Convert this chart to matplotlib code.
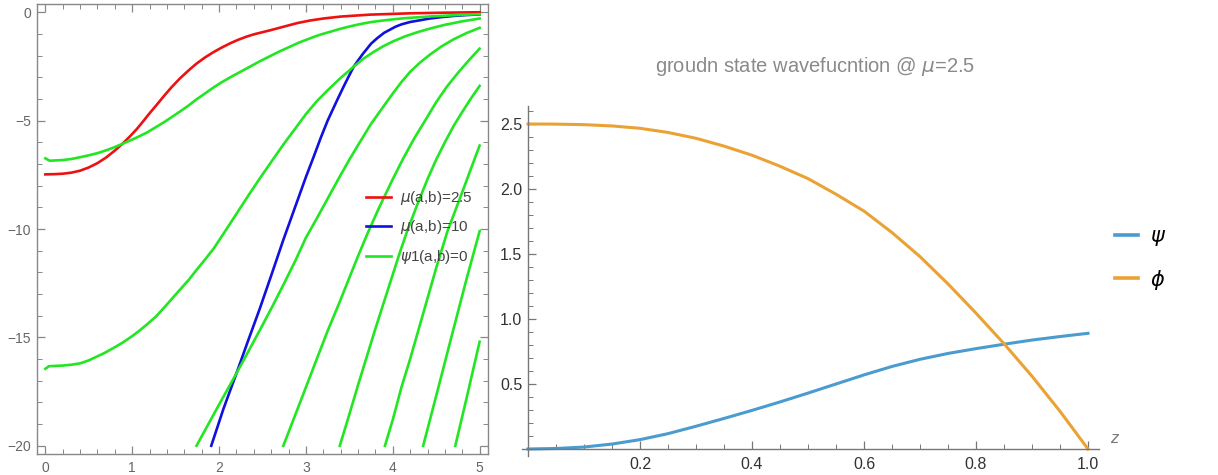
import matplotlib
matplotlib.use("Agg")
import matplotlib.pyplot as plt
from matplotlib.ticker import MultipleLocator, FixedLocator

plt.rcParams["font.family"] = ["Liberation Sans", "DejaVu Sans"]
plt.rcParams["mathtext.fontset"] = "dejavusans"

# ---- left panel: contour-like curves ----
red_x = [0, 0.1, 0.2, 0.3, 0.4, 0.5, 0.6, 0.7, 0.8, 0.9, 0.98, 1.05, 1.12, 1.2, 1.28, 1.36, 1.45, 1.55,
         1.65, 1.74, 1.84, 1.94, 2.03, 2.13, 2.22, 2.32, 2.4, 2.5, 2.6, 2.75, 2.9, 3.05, 3.2, 3.4, 3.74,
         4.2, 4.6, 5.0]
red_y = [-7.48, -7.47, -7.45, -7.4, -7.31, -7.16, -6.96, -6.7, -6.38, -6.02, -5.7, -5.4, -5.06, -4.66,
         -4.28, -3.89, -3.47, -3.05, -2.68, -2.37, -2.08, -1.83, -1.63, -1.43, -1.27, -1.12, -1.02, -0.92,
         -0.82, -0.66, -0.5, -0.38, -0.29, -0.2, -0.11, -0.05, -0.02, 0.0]

blue_x = [1.91, 2.05, 2.2, 2.33, 2.47, 2.6, 2.74, 2.87, 3.0, 3.09, 3.17, 3.25, 3.36, 3.45, 3.55, 3.65,
          3.75, 3.82, 3.9, 4.03, 4.1, 4.2, 4.3, 4.41, 4.55, 4.7, 4.85, 5.0]
blue_y = [-20, -18.3, -16.66, -15.2, -13.66, -12.15, -10.5, -9.05, -7.6, -6.66, -5.8, -5.0, -4.05, -3.3,
          -2.51, -1.95, -1.45, -1.2, -0.95, -0.67, -0.56, -0.45, -0.38, -0.3, -0.23, -0.17, -0.13, -0.1]

green_x = [
    [0, 0.05, 0.1, 0.2, 0.3, 0.4, 0.5, 0.6, 0.7, 0.78, 0.9, 1.03, 1.17, 1.26, 1.36, 1.45, 1.55, 1.65,
     1.74, 1.84, 1.94, 2.03, 2.13, 2.25, 2.36, 2.48, 2.6, 2.7, 2.8, 2.92, 3.05, 3.16, 3.28, 3.4, 3.5,
     3.62, 3.74, 3.87, 4.0, 4.15, 4.3, 4.45, 4.6, 4.8, 5.0],
    [0, 0.04, 0.1, 0.2, 0.3, 0.4, 0.5, 0.59, 0.68, 0.78, 0.89, 1.0, 1.08, 1.17, 1.27, 1.36, 1.45, 1.55,
     1.65, 1.74, 1.84, 1.94, 2.07, 2.2, 2.33, 2.47, 2.61, 2.75, 2.88, 3.0, 3.12, 3.25, 3.4, 3.55, 3.66,
     3.78, 3.89, 4.0, 4.15, 4.3, 4.45, 4.6, 4.8, 5.0],
    [1.74, 1.87, 2.0, 2.1, 2.2, 2.33, 2.47, 2.61, 2.75, 2.88, 3.0, 3.12, 3.25, 3.38, 3.5, 3.62, 3.75,
     3.88, 4.0, 4.1, 4.2, 4.32, 4.43, 4.56, 4.7, 4.85, 5.0],
    [2.74, 2.87, 3.0, 3.12, 3.25, 3.38, 3.5, 3.6, 3.71, 3.85, 4.0, 4.12, 4.25, 4.38, 4.5, 4.62, 4.75,
     4.88, 5.0],
    [3.39, 3.5, 3.6, 3.7, 3.8, 3.9, 4.0, 4.08, 4.17, 4.28, 4.4, 4.5, 4.6, 4.7, 4.8, 4.9, 5.0],
    [3.91, 4.0, 4.1, 4.2, 4.3, 4.4, 4.5, 4.63, 4.72, 4.8, 4.9, 5.0],
    [4.35, 4.5, 4.7, 4.85, 5.0],
    [4.72, 4.85, 5.0],
]
green_y = [
    [-6.74, -6.85, -6.84, -6.82, -6.77, -6.69, -6.6, -6.5, -6.37, -6.25, -6.05, -5.82, -5.55, -5.33,
     -5.09, -4.85, -4.58, -4.3, -4.02, -3.74, -3.46, -3.23, -3.0, -2.74, -2.5, -2.24, -2.0, -1.8, -1.62,
     -1.4, -1.2, -1.04, -0.9, -0.76, -0.66, -0.55, -0.46, -0.39, -0.33, -0.27, -0.23, -0.19, -0.16,
     -0.12, -0.09],
    [-16.45, -16.33, -16.32, -16.3, -16.26, -16.2, -16.06, -15.89, -15.72, -15.5, -15.24, -14.94, -14.7,
     -14.4, -14.05, -13.66, -13.25, -12.8, -12.35, -11.89, -11.4, -10.89, -10.1, -9.3, -8.5, -7.66,
     -6.85, -6.05, -5.35, -4.7, -4.13, -3.6, -3.03, -2.51, -2.15, -1.83, -1.57, -1.35, -1.1, -0.9,
     -0.73, -0.58, -0.42, -0.29],
    [-20, -19.05, -18.1, -17.38, -16.66, -15.7, -14.66, -13.6, -12.5, -11.45, -10.4, -9.55, -8.6, -7.65,
     -6.8, -6.0, -5.15, -4.42, -3.75, -3.22, -2.75, -2.3, -1.95, -1.58, -1.25, -0.96, -0.72],
    [-20, -18.65, -17.3, -16.05, -14.7, -13.45, -12.25, -11.25, -10.2, -8.95, -7.7, -6.75, -5.8, -4.95,
     -4.15, -3.45, -2.8, -2.2, -1.68],
    [-20, -18.55, -17.2, -15.9, -14.6, -13.35, -12.1, -11.1, -10.05, -8.9, -7.7, -6.8, -6.0, -5.25,
     -4.6, -3.98, -3.4],
    [-20, -18.8, -17.3, -16.0, -14.6, -13.2, -11.8, -10.1, -9.15, -8.3, -7.22, -6.15],
    [-20, -17.7, -14.6, -12.3, -10.1],
    [-20, -17.8, -15.2],
]
left_labels = [r"$\mu$(a,b)=2.5", r"$\mu$(a,b)=10", r"$\psi$1(a,b)=0"]

# ---- right panel: ground state wavefunction ----
z_vals = [0, 0.05, 0.1, 0.15, 0.2, 0.25, 0.3, 0.35, 0.4, 0.45, 0.5, 0.55, 0.6, 0.65, 0.7, 0.75, 0.8,
          0.85, 0.9, 0.95, 1.0]
psi_vals = [0, 0.004, 0.015, 0.038, 0.072, 0.118, 0.175, 0.235, 0.297, 0.362, 0.43, 0.50, 0.57, 0.635,
            0.69, 0.735, 0.772, 0.806, 0.838, 0.865, 0.89]
phi_vals = [2.5, 2.499, 2.495, 2.485, 2.467, 2.435, 2.39, 2.33, 2.26, 2.175, 2.08, 1.96, 1.83, 1.665,
            1.48, 1.27, 1.045, 0.81, 0.56, 0.29, 0.0]

W, H = 1218, 475
fig = plt.figure(figsize=(W / 100, H / 100), dpi=100)

# left axes (pixel box -> figure fraction)
ax1 = fig.add_axes([36.7 / W, 1 - 454 / H, (488.3 - 36.7) / W, (454 - 4) / H])
ax1.plot(red_x, red_y, color="#ee1111", lw=1.9, label=left_labels[0])
ax1.plot(blue_x, blue_y, color="#1010e0", lw=1.9, label=left_labels[1])
for i, (gx, gy) in enumerate(zip(green_x, green_y)):
    ax1.plot(gx, gy, color="#22e622", lw=1.9, label=left_labels[2] if i == 0 else None)
ax1.set_xlim(-0.1, 5.1)
ax1.set_ylim(-20.38, 0.38)
ax1.xaxis.set_major_locator(MultipleLocator(1))
ax1.xaxis.set_minor_locator(MultipleLocator(0.2))
ax1.yaxis.set_major_locator(MultipleLocator(5))
ax1.yaxis.set_minor_locator(MultipleLocator(1))
ax1.tick_params(which="both", direction="in", top=True, right=True, color="#888888",
                labelcolor="#666666", labelsize=10)
ax1.tick_params(which="major", length=6, width=0.9)
ax1.tick_params(which="minor", length=3.5, width=0.7)
ax1.tick_params(axis="x", pad=5)
ax1.tick_params(axis="y", pad=4)
for s in ax1.spines.values():
    s.set_color("#888888")
    s.set_linewidth(1.0)
leg1 = ax1.legend(loc="upper left", bbox_to_anchor=(366 / W, 1 - 189 / H),
                  bbox_transform=fig.transFigure, frameon=False, fontsize=11,
                  handlelength=1.65, handletextpad=0.6, labelspacing=0.75,
                  borderpad=0, borderaxespad=0)
for t in leg1.get_texts():
    t.set_color("#444444")

# right axes
x0, x1 = -0.01, 1.02
y0, y1 = -0.05, 2.64
px_l, px_r = 528 - 0.01 * 560, 528 + 1.02 * 560
py_b, py_t = 449 + 0.05 * 130, 449 - 2.64 * 130
ax2 = fig.add_axes([px_l / W, 1 - py_b / H, (px_r - px_l) / W, (py_b - py_t) / H])
ax2.plot(z_vals, psi_vals, color="#4a9bd0", lw=2.2, label=r"$\psi$")
ax2.plot(z_vals, phi_vals, color="#eba234", lw=2.2, label=r"$\phi$")
ax2.set_xlim(x0, x1)
ax2.set_ylim(y0, y1)
ax2.spines["left"].set_position(("data", 0))
ax2.spines["bottom"].set_position(("data", 0))
ax2.spines["top"].set_visible(False)
ax2.spines["right"].set_visible(False)
for s in ("left", "bottom"):
    ax2.spines[s].set_color("#777777")
    ax2.spines[s].set_linewidth(1.0)
ax2.xaxis.set_major_locator(FixedLocator([0.2, 0.4, 0.6, 0.8, 1.0]))
ax2.xaxis.set_minor_locator(MultipleLocator(0.05))
ax2.yaxis.set_major_locator(FixedLocator([0.5, 1.0, 1.5, 2.0, 2.5]))
ax2.yaxis.set_minor_locator(MultipleLocator(0.1))
ax2.tick_params(which="both", direction="in", color="#777777", labelcolor="#333333",
                labelsize=11.5)
ax2.tick_params(which="major", length=6, width=0.9)
ax2.tick_params(which="minor", length=3.5, width=0.7)
ax2.tick_params(axis="x", pad=6)
ax2.tick_params(axis="y", pad=4)
ax2.text(1.04, 0.02, "z", style="italic", color="#777777", fontsize=12,
         ha="left", va="bottom", clip_on=False)

leg2 = ax2.legend(loc="upper left", bbox_to_anchor=(1115 / W, 1 - 227 / H),
                  bbox_transform=fig.transFigure, frameon=False, fontsize=15,
                  handlelength=1.1, handletextpad=0.6, labelspacing=0.95,
                  borderpad=0, borderaxespad=0)
for line in leg2.get_lines():
    line.set_linewidth(2.6)

fig.text(815 / W, 1 - 67 / H, r"groudn state wavefucntion @ $\mu$=2.5", color="#8a8a8a",
         fontsize=14.5, ha="center", va="center")

fig.savefig("out.png", dpi=100)
